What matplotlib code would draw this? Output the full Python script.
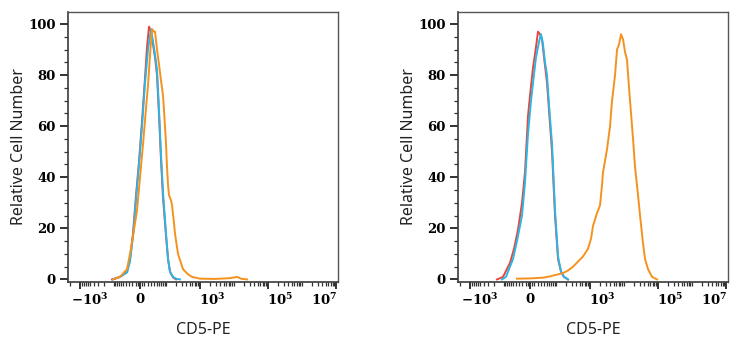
import matplotlib
matplotlib.use("Agg")
import matplotlib.pyplot as plt
from matplotlib.ticker import FixedLocator, FixedFormatter, NullFormatter
from matplotlib.transforms import ScaledTranslation

plt.rcParams['mathtext.fontset'] = 'dejavuserif'

# ---- data (fluorescence intensity, relative cell number) ----
# Left panel
L_red_x = [-114, -63.3, -35, -25.6, -17.2, -9.6, -2.4, 4.75, 12.1, 17.2, 22.7, 28.6, 35, 42, 49.8,
           58.7, 68.1, 79.4, 98.8, 114, 131, 162, 199]
L_red_y = [0, 1, 3, 8, 18, 33, 46, 62, 79, 91, 99, 97, 92, 87, 80, 64, 47, 32, 17, 8, 3, 0.8, 0]
L_blue_x = [-106, -63.3, -35, -25.6, -17.2, -9.6, -2.4, 4.75, 12.1, 19.9, 28.6, 35, 42, 49.8, 58.7,
            68.1, 79.4, 98.8, 114, 131, 162, 199, 261]
L_blue_y = [0, 1, 2.7, 7, 17, 31, 45, 60, 77, 90, 98, 93, 88, 82, 66, 49, 34, 18, 8, 3, 1, 0.3, 0]
L_orange_x = [-106, -63.3, -35, -25.6, -17.2, -7.2, 0, 7.2, 14.6, 19.9, 25.6, 31.7, 38.4, 42, 49.8,
              58.7, 68.1, 79.4, 85.6, 98.8, 106, 114, 122, 141, 151, 173, 185, 228, 321, 451, 592,
              1018, 2810, 7767, 12460, 16340, 24530]
L_orange_y = [0, 1, 4, 10, 17, 27, 40, 53, 67, 76, 88, 98, 97, 97, 90, 84, 78, 72, 66, 53, 44, 37,
              33, 31, 29, 22, 18, 10, 4, 2, 1, 0.3, 0.2, 0.5, 1, 0.3, 0]

# Right panel
R_red_x = [-162, -106, -63.3, -45.8, -31.7, -19.9, -12.1, -4.75, 0, 7.2, 14.6, 19.9, 25.6, 31.7,
           38.4, 49.8, 58.7, 73.7, 91.9, 114, 141, 173, 228]
R_red_y = [0, 1, 6.5, 12, 19.5, 30, 42, 64, 72, 83, 91, 97, 96, 94, 87, 77, 66, 50, 25, 8, 3, 1, 0]
R_blue_x = [-114, -85.6, -49.8, -35, -19.9, -12.1, -4.75, 2.4, 7.2, 14.6, 22.7, 28.6, 35, 42, 49.8,
            58.7, 73.7, 91.9, 114, 141, 173, 228]
R_blue_y = [0, 1, 8, 15, 25, 38, 57, 70, 77, 87, 93, 96, 92, 85, 80, 68, 53, 27, 9, 3, 1, 0]
R_orange_x = [-35, 0, 35, 63.3, 114, 162, 228, 321, 451, 633, 889, 1089, 1248, 1635, 2003, 2293,
              2456, 3220, 3945, 4517, 5535, 6338, 7258, 8311, 9513, 10890, 12460, 14270, 15267,
              18720, 21430, 26250, 30080, 36850, 42210, 51700, 67800, 95100]
R_orange_y = [0.3, 0.4, 0.7, 1.2, 2, 2.5, 3.5, 5, 7, 9, 12, 16, 21, 26, 29, 37, 42, 51, 60, 70, 80,
              90, 92, 96, 94, 89, 86, 75, 70, 55, 44, 33, 25, 14, 8, 4, 1, 0]

x_tick_values = [-1000, 0, 1000, 1e5, 1e7]
x_tick_labels = [r'$\mathbf{-10^{3}}$', r'$\mathbf{0}$', r'$\mathbf{10^{3}}$',
                 r'$\mathbf{10^{5}}$', r'$\mathbf{10^{7}}$']
y_tick_values = [0, 20, 40, 60, 80, 100]

COL_RED = '#e8453c'
COL_BLUE = '#2ab6e6'
COL_ORANGE = '#f5921e'

W, H = 741, 350
fig = plt.figure(figsize=(W / 100, H / 100), dpi=100)

panels = [
    (68, (L_red_x, L_red_y), (L_blue_x, L_blue_y), (L_orange_x, L_orange_y)),
    (458, (R_red_x, R_red_y), (R_blue_x, R_blue_y), (R_orange_x, R_orange_y)),
]

label_offsets_px = [9, 0, 12, 12, -12]

for left_px, red, blue, orange in panels:
    ax = fig.add_axes([left_px / W, 1 - 282 / H, 270 / W, 270 / H])
    ax.set_xscale('asinh', linear_width=35)
    ax.plot(red[0], red[1], color=COL_RED, lw=1.4)
    ax.plot(blue[0], blue[1], color=COL_BLUE, lw=1.4)
    ax.plot(orange[0], orange[1], color=COL_ORANGE, lw=1.4)

    ax.set_xlim(-2293, 1.16e7)
    ax.set_ylim(-1, 104.7)

    # x ticks
    ax.xaxis.set_major_locator(FixedLocator(x_tick_values))
    ax.xaxis.set_major_formatter(FixedFormatter(x_tick_labels))
    minors = []
    for n in range(1, 7):
        for k in range(1, 10):
            v = k * 10 ** n
            if v < 1.16e7:
                minors.append(v)
    for n in range(1, 3):
        for k in range(1, 10):
            minors.append(-k * 10 ** n)
    minors += [-2000, -5, 5]
    ax.xaxis.set_minor_locator(FixedLocator(sorted(set(minors))))
    ax.xaxis.set_minor_formatter(NullFormatter())
    ax.tick_params(axis='x', which='major', direction='out', length=5, width=1.3,
                   color='#222222', labelsize=9.5, pad=2)
    ax.tick_params(axis='x', which='minor', direction='out', length=3, width=0.9,
                   color='#333333')

    # y ticks
    ax.set_yticks(y_tick_values)
    ax.set_yticks(list(range(5, 100, 5)), minor=True)
    ax.tick_params(axis='y', which='major', direction='out', length=6, width=1.3,
                   color='#222222', labelsize=9.5, pad=3)
    ax.tick_params(axis='y', which='minor', direction='out', length=3, width=0.9,
                   color='#333333')
    for lab in ax.get_yticklabels():
        lab.set_fontfamily('DejaVu Serif')
        lab.set_fontweight('bold')

    for lab, dx in zip(ax.get_xticklabels(), label_offsets_px):
        lab.set_transform(lab.get_transform() + ScaledTranslation(dx / 100, 0, fig.dpi_scale_trans))

    for side in ['left', 'bottom']:
        ax.spines[side].set_color('#3a3a3a')
        ax.spines[side].set_linewidth(1.2)
    for side in ['top', 'right']:
        ax.spines[side].set_color('#555555')
        ax.spines[side].set_linewidth(1.0)

    ax.set_ylabel('Relative Cell Number', fontfamily='Noto Sans', fontsize=11.5,
                  color='#222222', va='center')
    ax.yaxis.set_label_coords(-0.182, 0.5)
    ax.set_xlabel('CD5-PE', fontfamily='Noto Sans', fontsize=11.5, labelpad=10, color='#222222')

fig.savefig('out.png', dpi=100, facecolor='white')
